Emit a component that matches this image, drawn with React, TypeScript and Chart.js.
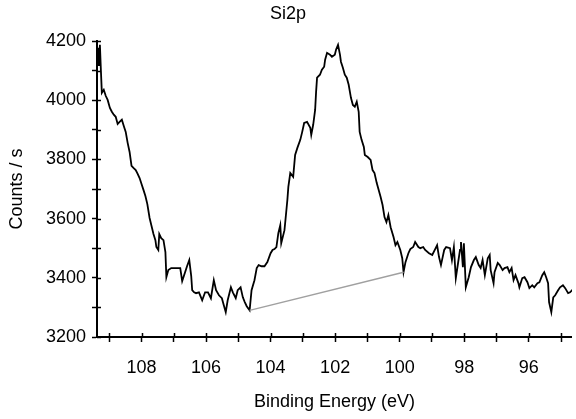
import React, { useEffect, useRef } from "react";
import { Chart, registerables } from "chart.js";

Chart.register(...registerables);

// Si 2p region: binding energy (eV) and measured count rate (counts/s)
const energyEV = [
  109.38, 109.35, 109.32, 109.29, 109.26, 109.23, 109.17, 109.11, 109.05, 108.98,
  108.92, 108.86, 108.8, 108.74, 108.68, 108.61, 108.55, 108.49, 108.43, 108.37,
  108.31, 108.25, 108.18, 108.12, 108.06, 108.0, 107.94, 107.88, 107.82, 107.75,
  107.69, 107.63, 107.57, 107.54, 107.48, 107.45, 107.39, 107.32, 107.26, 107.23,
  107.17, 107.08, 106.99, 106.89, 106.8, 106.74, 106.65, 106.59, 106.52, 106.46,
  106.43, 106.37, 106.31, 106.22, 106.12, 106.03, 105.94, 105.85, 105.76, 105.69,
  105.6, 105.51, 105.45, 105.39, 105.33, 105.23, 105.17, 105.08, 105.02, 104.93,
  104.86, 104.8, 104.74, 104.65, 104.59, 104.5, 104.43, 104.37, 104.28, 104.19,
  104.1, 104.0, 103.94, 103.88, 103.82, 103.76, 103.7, 103.67, 103.57, 103.54,
  103.51, 103.48, 103.45, 103.39, 103.3, 103.24, 103.17, 103.08, 103.02, 102.96,
  102.87, 102.77, 102.74, 102.68, 102.62, 102.59, 102.56, 102.47, 102.41, 102.34,
  102.31, 102.25, 102.16, 102.1, 102.01, 101.97, 101.91, 101.85, 101.82, 101.76,
  101.7, 101.64, 101.58, 101.51, 101.45, 101.39, 101.33, 101.27, 101.24, 101.18,
  101.11, 101.08, 100.99, 100.9, 100.84, 100.78, 100.71, 100.65, 100.59, 100.53,
  100.47, 100.41, 100.35, 100.28, 100.19, 100.13, 100.07, 99.98, 99.92, 99.88,
  99.82, 99.73, 99.67, 99.58, 99.52, 99.42, 99.36, 99.27, 99.21, 99.09,
  98.99, 98.9, 98.84, 98.78, 98.72, 98.62, 98.56, 98.44, 98.38, 98.32,
  98.26, 98.19, 98.13, 98.1, 98.04, 98.01, 97.95, 97.86, 97.79, 97.7,
  97.64, 97.55, 97.49, 97.43, 97.36, 97.27, 97.21, 97.18, 97.09, 97.06,
  96.96, 96.9, 96.81, 96.75, 96.66, 96.6, 96.53, 96.47, 96.41, 96.32,
  96.29, 96.2, 96.13, 96.04, 95.98, 95.89, 95.83, 95.73, 95.67, 95.58,
  95.52, 95.46, 95.4, 95.37, 95.3, 95.24, 95.18, 95.09, 95.03, 94.94,
  94.87, 94.78, 94.72, 94.66, 94.6,
];

const countsPerSec = [
  4140, 4177, 4116, 4187, 4103, 4025, 4035, 4015, 4001, 3974,
  3961, 3951, 3944, 3920, 3927, 3934, 3913, 3893, 3856, 3825,
  3778, 3771, 3764, 3751, 3737, 3717, 3697, 3676, 3649, 3602,
  3575, 3548, 3527, 3504, 3494, 3548, 3534, 3527, 3487, 3402,
  3426, 3433, 3433, 3433, 3433, 3389, 3419, 3439, 3460, 3406,
  3358, 3351, 3348, 3351, 3324, 3351, 3351, 3331, 3392, 3358,
  3341, 3331, 3307, 3284, 3324, 3368, 3351, 3331, 3358, 3368,
  3334, 3318, 3304, 3290, 3358, 3392, 3433, 3443, 3439, 3439,
  3453, 3483, 3494, 3497, 3504, 3551, 3578, 3517, 3561, 3595,
  3629, 3663, 3707, 3754, 3741, 3815, 3839, 3866, 3893, 3923,
  3927, 3907, 3883, 3917, 3967, 4028, 4076, 4086, 4103, 4113,
  4137, 4160, 4154, 4147, 4154, 4171, 4187, 4154, 4130, 4110,
  4086, 4076, 4052, 4008, 3984, 3978, 3995, 3961, 3893, 3866,
  3842, 3815, 3808, 3798, 3764, 3754, 3720, 3697, 3673, 3646,
  3605, 3588, 3612, 3571, 3538, 3510, 3521, 3494, 3466, 3419,
  3453, 3483, 3497, 3504, 3521, 3504, 3500, 3504, 3494, 3483,
  3477, 3497, 3510, 3470, 3443, 3494, 3504, 3500, 3460, 3504,
  3399, 3450, 3494, 3521, 3436, 3517, 3368, 3402, 3436, 3460,
  3470, 3443, 3433, 3460, 3409, 3466, 3477, 3426, 3382, 3419,
  3450, 3443, 3426, 3433, 3436, 3419, 3433, 3392, 3409, 3382,
  3368, 3399, 3402, 3385, 3365, 3375, 3368, 3382, 3385, 3409,
  3419, 3402, 3382, 3318, 3284, 3334, 3341, 3358, 3368, 3375,
  3365, 3348, 3351, 3358, 3350,
];

// Linear background under the Si 2p peak
const backgroundEV = [104.65, 99.88];
const backgroundCounts = [3290, 3419];

// Axis ranges and tick steps
const xRange = [94.66, 109.38];
const yRange = [3200, 4200];
const xStep = 1;
const yStep = 100;

const FONT = "'Liberation Sans', Arial, Helvetica, sans-serif";

// Tick marks that cross the axis line: Chart.js draws the outer half,
// this plugin adds the half that reaches into the plot area.
const innerTicks = {
  id: "innerTicks",
  afterDatasetsDraw(chart: any) {
    const { ctx, chartArea, scales } = chart;
    ctx.save();
    ctx.strokeStyle = "#000";
    ctx.lineWidth = 1.5;
    ctx.beginPath();
    for (const t of scales.x.ticks) {
      const px = Math.round(scales.x.getPixelForValue(t.value)) + 0.5;
      ctx.moveTo(px, chartArea.bottom);
      ctx.lineTo(px, chartArea.bottom - 4);
    }
    for (const t of scales.y.ticks) {
      const py = Math.round(scales.y.getPixelForValue(t.value)) + 0.5;
      ctx.moveTo(chartArea.left, py);
      ctx.lineTo(chartArea.left + 4, py);
    }
    ctx.stroke();
    ctx.restore();
  },
};

export default function App() {
  const canvasRef = useRef<HTMLCanvasElement | null>(null);

  useEffect(() => {
    if (!canvasRef.current) return;
    const spectrum = energyEV.map((e, i) => ({ x: e, y: countsPerSec[i] }));
    const background = backgroundEV.map((e, i) => ({ x: e, y: backgroundCounts[i] }));

    const chart = new Chart(canvasRef.current, {
      type: "line",
      data: {
        datasets: [
          {
            label: "Background",
            data: background,
            borderColor: "#a0a0a0",
            borderWidth: 1.5,
            pointRadius: 0,
            tension: 0,
          },
          {
            label: "Si2p",
            data: spectrum,
            borderColor: "#000000",
            borderWidth: 1.8,
            pointRadius: 0,
            tension: 0,
          },
        ],
      },
      options: {
        responsive: false,
        animation: false,
        layout: { padding: { left: 0, right: 0, top: 0, bottom: 0 } },
        plugins: {
          legend: { display: false },
          tooltip: { enabled: false },
          title: {
            display: true,
            text: "Si2p",
            color: "#000",
            font: { family: FONT, size: 18, weight: "normal", lineHeight: 1.2 },
            padding: { top: 3, bottom: 16.4 },
          },
        },
        scales: {
          x: {
            type: "linear",
            reverse: true,
            min: xRange[0],
            max: xRange[1],
            afterFit(scale: any) {
              scale.height = 82;
            },
            border: { display: true, color: "#000", width: 2 },
            grid: {
              display: true,
              drawOnChartArea: false,
              drawTicks: true,
              tickLength: 5,
              tickColor: "#000",
              tickWidth: 1.5,
            },
            ticks: {
              stepSize: xStep,
              includeBounds: false,
              autoSkip: false,
              maxRotation: 0,
              maxTicksLimit: 100,
              padding: 15,
              color: "#000",
              font: { family: FONT, size: 18 },
              callback: (v: any) => {
                const n = Math.round(Number(v));
                return Math.abs(Number(v) - n) < 1e-6 && n % 2 === 0 ? String(n) : "";
              },
            },
            title: {
              display: true,
              text: "Binding Energy (eV)",
              color: "#000",
              font: { family: FONT, size: 18, lineHeight: 1.2 },
              padding: { top: 0, bottom: 6 },
            },
          },
          y: {
            type: "linear",
            min: yRange[0],
            max: yRange[1],
            afterFit(scale: any) {
              scale.width = 97;
            },
            border: { display: true, color: "#000", width: 2 },
            grid: {
              display: true,
              drawOnChartArea: false,
              drawTicks: true,
              tickLength: 5,
              tickColor: "#000",
              tickWidth: 1.5,
            },
            ticks: {
              stepSize: yStep,
              autoSkip: false,
              maxTicksLimit: 100,
              padding: 6,
              color: "#000",
              font: { family: FONT, size: 18 },
              callback: (v: any) => {
                const n = Math.round(Number(v));
                return n % 200 === 0 ? String(n) : "";
              },
            },
            title: {
              display: true,
              text: "Counts / s",
              color: "#000",
              font: { family: FONT, size: 18, lineHeight: 1.2 },
              padding: { top: 6, bottom: 0 },
            },
          },
        },
      },
      plugins: [innerTicks],
    });

    return () => chart.destroy();
  }, []);

  return (
    <div style={{ position: "fixed", left: 0, top: 0, width: 576, height: 419, background: "#fff" }}>
      <canvas ref={canvasRef} width={576} height={419} style={{ display: "block" }} />
    </div>
  );
}
